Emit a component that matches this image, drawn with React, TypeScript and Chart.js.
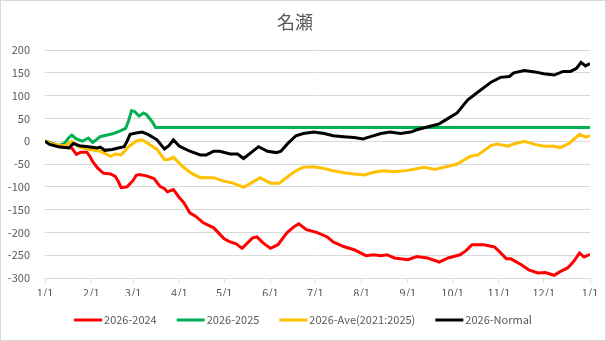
import React, { useEffect, useRef } from "react";
import { Chart, registerables } from "chart.js";

Chart.register(...registerables);

const TITLE = "名瀬";
const MONTH_DAYS = [0, 31, 59, 90, 120, 151, 181, 212, 243, 273, 304, 334, 365];
const MONTH_LABELS = ["1/1", "2/1", "3/1", "4/1", "5/1", "6/1", "7/1", "8/1", "9/1", "10/1", "11/1", "12/1", "1/1"];

const SERIES_NAMES = ["2026-2024", "2026-2025", "2026-Ave(2021:2025)", "2026-Normal"];
const SERIES_COLORS = ["#ff0000", "#00b050", "#ffc000", "#000000"];

// 2026-2024
const redDays = [0, 5, 10, 14, 18, 21, 24, 28, 30, 32, 35, 39, 44, 47, 49, 51, 55, 59, 61, 63, 68, 73, 77, 80, 82, 86, 90, 93, 97, 101, 106, 113, 120, 124, 128, 132, 136, 139, 142, 146, 151, 156, 162, 167, 170, 175, 182, 189, 193, 200, 207, 215, 220, 225, 229, 234, 243, 249, 256, 264, 270, 278, 282, 286, 294, 301, 304, 309, 312, 319, 324, 330, 335, 341, 345, 350, 354, 358, 361, 365];
const redVals = [0, -5, -12, -13, -15, -29, -24, -24, -33, -45, -58, -70, -72, -77, -88, -102, -100, -86, -75, -73, -76, -82, -99, -104, -111, -106, -124, -135, -157, -165, -179, -190, -214, -221, -225, -235, -222, -212, -210, -223, -235, -227, -201, -187, -181, -194, -200, -210, -221, -231, -238, -251, -249, -251, -249, -256, -260, -253, -256, -265, -256, -249, -240, -227, -227, -232, -241, -258, -258, -271, -282, -289, -288, -294, -286, -278, -264, -245, -254, -248];

// 2026-2025
const greenDays = [0, 5, 9, 13, 16, 18, 21, 25, 29, 32, 37, 41, 46, 50, 54, 56, 58, 60, 63, 66, 68, 72, 74, 365];
const greenVals = [0, -5, -10, -5, 8, 13, 5, 0, 7, -3, 10, 13, 17, 22, 28, 45, 67, 65, 55, 62, 58, 42, 30, 30];

// 2026-Ave(2021:2025)
const aveDays = [0, 6, 13, 16, 18, 23, 30, 37, 44, 47, 51, 56, 61, 65, 68, 75, 80, 83, 86, 92, 98, 104, 113, 119, 126, 133, 138, 144, 151, 157, 162, 168, 173, 180, 187, 193, 200, 207, 214, 220, 227, 234, 243, 254, 261, 270, 276, 285, 290, 299, 303, 310, 314, 321, 328, 334, 341, 345, 351, 358, 362, 365];
const aveVals = [0, -7, -10, -5, 0, -13, -18, -22, -33, -28, -30, -12, 0, 3, -3, -18, -40, -40, -35, -55, -70, -80, -80, -87, -92, -101, -92, -80, -92, -92, -79, -65, -57, -56, -60, -65, -69, -72, -74, -68, -65, -67, -64, -57, -62, -55, -50, -33, -30, -9, -6, -11, -6, 0, -7, -11, -11, -14, -5, 15, 9, 12];

// 2026-Normal
const normDays = [0, 3, 9, 16, 19, 23, 29, 35, 37, 40, 45, 49, 53, 55, 57, 61, 65, 69, 75, 80, 83, 86, 90, 97, 104, 108, 113, 117, 124, 129, 133, 138, 143, 149, 155, 158, 162, 168, 173, 180, 187, 193, 200, 207, 213, 218, 225, 231, 238, 245, 249, 256, 264, 270, 276, 283, 290, 299, 305, 311, 314, 321, 328, 334, 341, 347, 352, 356, 359, 362, 365];
const normVals = [0, -7, -12, -15, -5, -10, -12, -15, -13, -20, -18, -15, -12, 0, 15, 18, 20, 15, 3, -17, -10, 3, -11, -22, -30, -30, -22, -22, -28, -28, -38, -25, -12, -22, -25, -22, -7, 12, 17, 20, 17, 12, 10, 8, 5, 10, 17, 20, 17, 20, 25, 31, 38, 50, 62, 90, 108, 130, 140, 142, 150, 155, 152, 148, 145, 153, 153, 160, 173, 165, 170];

const Y_MIN = -300;
const Y_MAX = 200;
const Y_STEP = 50;

const toPoints = (days: number[], vals: number[]) => days.map((d, i) => ({ x: d, y: vals[i] }));

const TEXT = "#595959";
const GRID = "#d9d9d9";
const FONT = "'Noto Sans CJK JP', 'Noto Sans', sans-serif";

export default function App() {
  const ref = useRef<HTMLCanvasElement | null>(null);
  useEffect(() => {
    document.body.style.margin = "0";
    const canvas = ref.current;
    if (!canvas) return;
    const allDays = [redDays, greenDays, aveDays, normDays];
    const allVals = [redVals, greenVals, aveVals, normVals];
    const frame = {
      id: "frame",
      afterDraw(chart: any) {
        const c = chart.ctx;
        c.save();
        c.strokeStyle = GRID;
        c.lineWidth = 1;
        c.strokeRect(0.5, 0.5, chart.width - 1, chart.height - 1);
        // legend
        c.font = `11px ${FONT}`;
        c.textBaseline = "middle";
        c.textAlign = "left";
        const lineLen = 28;
        const gap = 2;
        const spacing = 20;
        const widths = SERIES_NAMES.map((n) => lineLen + gap + c.measureText(n).width);
        const total = widths.reduce((a, b) => a + b, 0) + spacing * (widths.length - 1);
        let x = (chart.width - total) / 2;
        const y = 320;
        SERIES_NAMES.forEach((n, i) => {
          c.strokeStyle = SERIES_COLORS[i];
          c.lineWidth = 3;
          c.beginPath();
          c.moveTo(x, y);
          c.lineTo(x + lineLen, y);
          c.stroke();
          c.fillStyle = TEXT;
          c.fillText(n, x + lineLen + gap, y);
          x += widths[i] + spacing;
        });
        c.restore();
      },
    };
    const chart = new Chart(canvas, {
      type: "line",
      data: {
        datasets: SERIES_NAMES.map((name, i) => ({
          label: name,
          data: toPoints(allDays[i], allVals[i]),
          borderColor: SERIES_COLORS[i],
          backgroundColor: SERIES_COLORS[i],
          borderWidth: 3,
          pointRadius: 0,
          tension: 0,
          fill: false,
          order: 3 - i,
        })),
      },
      options: {
        animation: false,
        responsive: false,
        layout: { padding: { left: 0, right: 16, top: 0, bottom: 45 } },
        plugins: {
          title: {
            display: true,
            text: TITLE,
            color: TEXT,
            font: { family: FONT, size: 18, weight: "normal" },
            padding: { top: 11, bottom: 17.4 },
          },
          legend: { display: false },
          tooltip: { enabled: false },
        },
        scales: {
          x: {
            type: "linear",
            min: MONTH_DAYS[0],
            max: MONTH_DAYS[MONTH_DAYS.length - 1],
            afterBuildTicks: (scale: any) => {
              scale.ticks = MONTH_DAYS.map((v) => ({ value: v }));
            },
            afterFit: (scale: any) => {
              scale.height = 18;
            },
            ticks: {
              autoSkip: false,
              maxRotation: 0,
              padding: 3,
              color: TEXT,
              font: { family: FONT, size: 11 },
              callback: (_v: any, idx: number) => MONTH_LABELS[idx],
            },
            grid: { drawOnChartArea: false, drawTicks: true, tickLength: 5, color: GRID },
            border: { color: GRID },
          },
          y: {
            min: Y_MIN,
            max: Y_MAX,
            afterFit: (scale: any) => {
              scale.width = 45;
            },
            ticks: {
              stepSize: Y_STEP,
              padding: 15,
              color: TEXT,
              font: { family: FONT, size: 11 },
            },
            grid: { color: GRID, drawTicks: false },
            border: { display: false },
          },
        },
      },
      plugins: [frame],
    } as any);
    return () => chart.destroy();
  }, []);
  return (
    <div style={{ width: 606, height: 341 }}>
      <canvas ref={ref} width={606} height={341} style={{ display: "block" }} />
    </div>
  );
}
